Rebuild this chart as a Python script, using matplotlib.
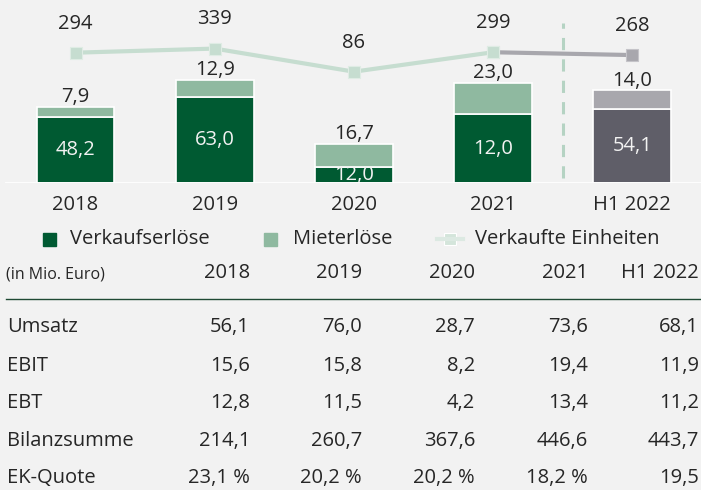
import numpy as np
import matplotlib
matplotlib.use("Agg")
import matplotlib.pyplot as plt
from matplotlib.patches import Rectangle
from matplotlib.lines import Line2D
import matplotlib.transforms as mtrans

plt.rcParams['font.family'] = ['Open Sans', 'DejaVu Sans']

# data
categories = ["2018", "2019", "2020", "2021", "H1 2022"]
verkauf = [48.2, 63.0, 12.0, 50.6, 54.1]
verkauf_labels = ["48,2", "63,0", "12,0", "12,0", "54,1"]
miete = [7.9, 12.9, 16.7, 23.0, 14.0]
miete_labels = ["7,9", "12,9", "16,7", "23,0", "14,0"]
einheiten = [294, 339, 86, 299, 268]

table_rows = ["Umsatz", "EBIT", "EBT", "Bilanzsumme", "EK-Quote"]
table_vals = [
    ["56,1", "76,0", "28,7", "73,6", "68,1"],
    ["15,6", "15,8", "8,2", "19,4", "11,9"],
    ["12,8", "11,5", "4,2", "13,4", "11,2"],
    ["214,1", "260,7", "367,6", "446,6", "443,7"],
    ["23,1 %", "20,2 %", "20,2 %", "18,2 %", "19,5"],
]

# colours
BG = "#f2f2f2"
DARK = "#005a32"
LIGHT = "#8fb9a0"
GRAY_D = "#5f5e68"
GRAY_L = "#a8a7ad"
LINE_G = "#c6ddd0"
TXT = "#262626"
FS = 14.5

W, H = 701, 490
fig = plt.figure(figsize=(W / 100, H / 100), dpi=100, facecolor=BG)

base_px = 183
ax = fig.add_axes([0, 1 - base_px / H, 1, base_px / H])
ax.set_facecolor("none")
x = np.arange(len(categories))
ax.set_xlim(-75.5 / 139.2, (W - 75.5) / 139.2)
ax.set_ylim(0, base_px / 1.36)
for s in ax.spines.values():
    s.set_visible(False)
ax.set_xticks([])
ax.set_yticks([])

c_bottom = [DARK] * 4 + [GRAY_D]
c_top = [LIGHT] * 4 + [GRAY_L]
ax.bar(x, verkauf, width=0.56, color=c_bottom, edgecolor="white", linewidth=1.2, zorder=2)
ax.bar(x, miete, bottom=verkauf, width=0.56, color=c_top, edgecolor="white", linewidth=1.2, zorder=2)

xfy = mtrans.blended_transform_factory(ax.transData, ax.transAxes)
for i in range(len(x)):
    ax.text(x[i], verkauf[i] / 2, verkauf_labels[i], ha="center", va="center",
            color="#f2f2f2", fontsize=FS, zorder=3, clip_on=True)
    ax.annotate(miete_labels[i], (x[i], verkauf[i] + miete[i]), xytext=(0, 7),
                textcoords="offset points", ha="center", va="center",
                color=TXT, fontsize=FS)
    ax.text(x[i], -22 / base_px, categories[i], transform=xfy,
            ha="center", va="center", color=TXT, fontsize=FS)

ax.axhline(0, xmin=6 / W, xmax=1, color="white", lw=2, zorder=4)
ax.axvline(3.5, ymin=1 - 178 / base_px, ymax=1 - 22.7 / base_px, color="#b5d3c3",
           lw=2.2, dashes=(4, 3), zorder=1)

# units line on its own scale
ax2 = ax.twinx()
ax2.set_ylim(-1133, 871)
ax2.set_axis_off()
ax2.plot(x[:4], einheiten[:4], color=LINE_G, lw=3, marker="s", ms=8,
         mfc=LINE_G, mec="#dfece4", mew=0.8, zorder=3)
ax2.plot(x[3:], einheiten[3:], color=GRAY_L, lw=3, zorder=2)
ax2.plot(x[3:4], einheiten[3:4], ls="none", marker="s", ms=8, mfc=LINE_G, mec="#dfece4", mew=0.8, zorder=4)
ax2.plot(x[4:], einheiten[4:], ls="none", marker="s", ms=8, mfc=GRAY_L, mec="#c4c3c8", mew=0.8, zorder=4)
for i in range(len(x)):
    ax2.annotate(str(einheiten[i]), (x[i], einheiten[i]), xytext=(0, 21),
                 textcoords="offset points", ha="center", va="center",
                 color=TXT, fontsize=FS)

# overlay in pixel coords for legend and table
ov = fig.add_axes([0, 0, 1, 1])
ov.set_xlim(0, W)
ov.set_ylim(H, 0)
ov.set_axis_off()
ov.patch.set_alpha(0)

leg_y = 239
ov.add_patch(Rectangle((43, leg_y - 6.5), 13, 13, color=DARK))
ov.text(70, leg_y, "Verkaufserlöse", va="center", ha="left", fontsize=FS, color=TXT)
ov.add_patch(Rectangle((264, leg_y - 6.5), 13, 13, color=LIGHT))
ov.text(293, leg_y, "Mieterlöse", va="center", ha="left", fontsize=FS, color=TXT)
ov.add_line(Line2D([437, 463], [leg_y, leg_y], color="#dce9e2", lw=3))
ov.add_patch(Rectangle((444, leg_y - 6), 12, 12, color="#d4e5db", ec="white", lw=0.8))
ov.text(475, leg_y, "Verkaufte Einheiten", va="center", ha="left", fontsize=FS, color=TXT)

col_right = [250, 362, 475, 588, 699]
ov.text(6, 274, "(in Mio. Euro)", va="center", ha="left", fontsize=11.5, color=TXT)
for c, xr in zip(categories, col_right):
    ov.text(xr, 273, c, va="center", ha="right", fontsize=FS, color=TXT)
ov.add_line(Line2D([6, 700], [299, 299], color="#1f4a34", lw=1))

row_y = [327, 366, 403, 441, 478]
for name, vals, yy in zip(table_rows, table_vals, row_y):
    ov.text(7, yy, name, va="center", ha="left", fontsize=FS, color=TXT)
    for v, xr in zip(vals, col_right):
        ov.text(xr, yy, v, va="center", ha="right", fontsize=FS, color=TXT)

fig.savefig("out.png", dpi=100, facecolor=BG)
